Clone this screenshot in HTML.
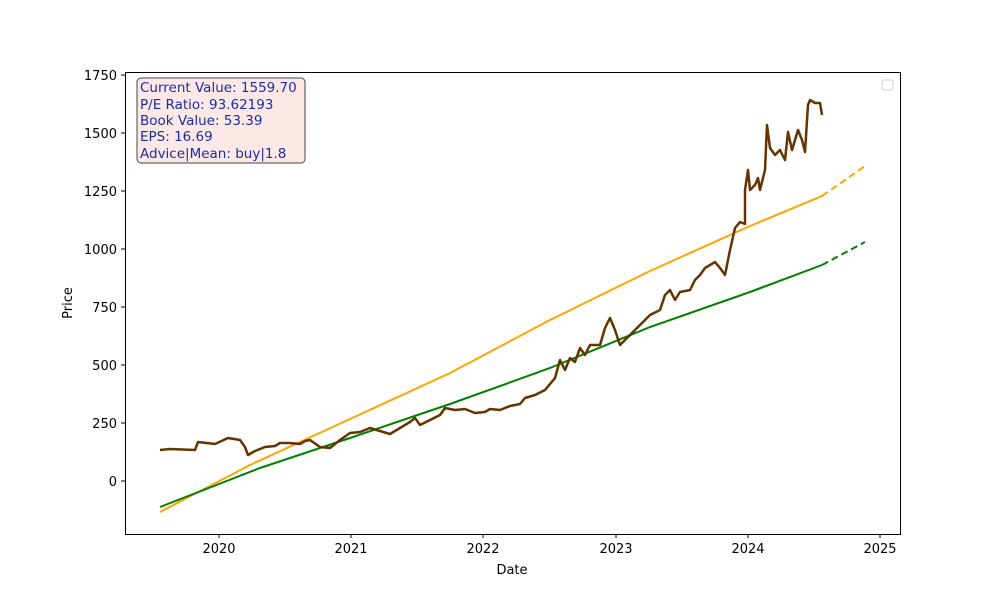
<!DOCTYPE html>
<html><head><meta charset="utf-8"><style>body{margin:0;background:#fff}svg{display:block;font-family:"DejaVu Sans","Liberation Sans",sans-serif}</style></head>
<body>
<svg width="1000" height="600" viewBox="0 0 1000 600">
<rect width="1000" height="600" fill="#fff"/>
<g font-size="13" fill="#000">
<g stroke="#000" stroke-width="1">
<line x1="121" y1="75" x2="125" y2="75"/><line x1="121" y1="133" x2="125" y2="133"/><line x1="121" y1="191" x2="125" y2="191"/><line x1="121" y1="249" x2="125" y2="249"/><line x1="121" y1="307" x2="125" y2="307"/><line x1="121" y1="365" x2="125" y2="365"/><line x1="121" y1="423" x2="125" y2="423"/><line x1="121" y1="481" x2="125" y2="481"/>
<line x1="219" y1="534" x2="219" y2="538"/><line x1="351" y1="534" x2="351" y2="538"/><line x1="483" y1="534" x2="483" y2="538"/><line x1="616" y1="534" x2="616" y2="538"/><line x1="748" y1="534" x2="748" y2="538"/><line x1="880" y1="534" x2="880" y2="538"/>
</g>
<g text-anchor="end">
<text x="117" y="80">1750</text><text x="117" y="138">1500</text><text x="117" y="196">1250</text><text x="117" y="254">1000</text><text x="117" y="312">750</text><text x="117" y="370">500</text><text x="117" y="428">250</text><text x="117" y="486">0</text>
</g>
<g text-anchor="middle">
<text x="219" y="553">2020</text><text x="351" y="553">2021</text><text x="483" y="553">2022</text><text x="616" y="553">2023</text><text x="748" y="553">2024</text><text x="880" y="553">2025</text>
<text x="512" y="574">Date</text>
<text transform="translate(72,303) rotate(-90)">Price</text>
</g>
</g>
<polyline fill="none" stroke="orange" stroke-width="2" points="160,512 250,465 350,419 450,373 550,320 650,271 750,226 822,196"/>
<polyline fill="none" stroke="orange" stroke-width="2" stroke-dasharray="7,4" points="822,196 865,166"/>
<polyline fill="none" stroke="green" stroke-width="2" points="160,507 260,468 350,438 450,404 550,368 650,327 750,292 822,265"/>
<polyline fill="none" stroke="green" stroke-width="2" stroke-dasharray="7,4" points="822,265 865,242"/>
<polyline fill="none" stroke="#663300" stroke-width="2.5" stroke-linejoin="round" points="160,450 170,449 195,450 198,442 215,444 228,438 240,440 245,447 248,455 255,451 265,447 275,446 280,443 290,443 300,444 305,441 310,440 320,447 330,448 340,440 350,433 360,432 370,428 380,431 390,434 400,428 410,422 415,418 420,425 430,420 440,415 445,408 455,410 465,409 475,413 485,412 490,409 500,410 510,406 520,404 525,398 535,395 545,390 555,378 560,360 565,370 570,358 575,362 580,348 585,355 590,345 600,345 605,328 610,318 615,330 620,345 625,340 630,335 640,325 650,315 660,310 665,295 670,290 675,300 680,292 690,290 695,280 700,275 705,268 710,265 715,262 720,268 725,275 730,250 735,228 740,222 745,224 745,190 748,170 750,190 755,185 758,178 760,190 765,170 767,125 770,148 775,155 780,150 785,160 788,132 792,150 795,140 798,130 802,140 805,152 808,105 810,100 815,103 820,103 822,115"/>
<rect x="125.5" y="72.5" width="775" height="462" fill="none" stroke="#000" stroke-width="1"/>
<rect x="137" y="78" width="168" height="85" rx="4" fill="#fde8e8" stroke="#444" stroke-width="1"/>
<g font-size="13.5" fill="#1a2fa0">
<text x="140" y="92">Current Value: 1559.70</text>
<text x="140" y="109">P/E Ratio: 93.62193</text>
<text x="140" y="125">Book Value: 53.39</text>
<text x="140" y="141">EPS: 16.69</text>
<text x="140" y="158">Advice|Mean: buy|1.8</text>
</g>
<rect x="882" y="80" width="11" height="10" rx="2" fill="#fff" stroke="#ccc"/>
</svg>
</body></html>
